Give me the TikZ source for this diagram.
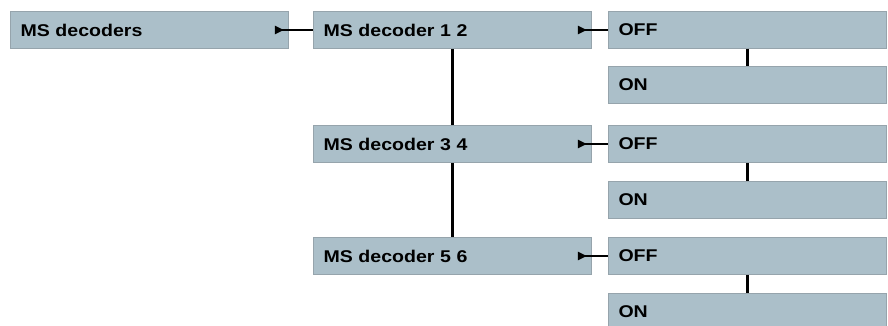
\documentclass[tikz,border=0pt]{standalone}
\usepackage{fontspec}
\setmainfont{Liberation Sans}[FakeStretch=1.15]
\usetikzlibrary{arrows.meta,positioning}

\definecolor{boxblue}{RGB}{171,191,201}
\definecolor{boxedge}{RGB}{150,164,172}

\begin{document}
\begin{tikzpicture}
[
	              x = 1pt,
	              y = -1pt,
	  box/.style = { rectangle, fill=boxblue, draw=boxedge, line width=0.6pt,
	                 minimum height=37pt, inner xsep=10pt, text width=258pt, align=left,
	                 font=\fontsize{17}{20}\selectfont\bfseries },
	  link/.style = { draw=black, line width=2.4pt },
	  go/.style = { link, {Triangle[reversed,length=9pt,width=8pt]}-, shorten <=-9pt }
]
	\useasboundingbox (0,0) rectangle (888,326);

	% nodes
	\node (ms)   at (149.5,30)  [box] {MS decoders};

	\node (d12)  at (452.5,30)  [box] {MS decoder 1 2};
	\node (d34)  at (452.5,144) [box] {MS decoder 3 4};
	\node (d56)  at (452.5,256) [box] {MS decoder 5 6};

	\node (off1) at (747.5,30)  [box] {OFF};
	\node (on1)  at (747.5,85)  [box] {ON};
	\node (off2) at (747.5,144) [box] {OFF};
	\node (on2)  at (747.5,200) [box] {ON};
	\node (off3) at (747.5,256) [box] {OFF};
	\node (on3)  at (747.5,312) [box] {ON};

	% edges
	\draw [go] ([xshift=-5pt]ms.east) -- (d12.west);
	\draw [go] ([xshift=-5pt]d12.east) -- (off1.west);
	\draw [go] ([xshift=-5pt]d34.east) -- (off2.west);
	\draw [go] ([xshift=-5pt]d56.east) -- (off3.west);

	\draw [link] (d12) -- (d34) (d34) -- (d56);
	\draw [link] (off1) -- (on1) (off2) -- (on2) (off3) -- (on3);

\end{tikzpicture}
\end{document}
